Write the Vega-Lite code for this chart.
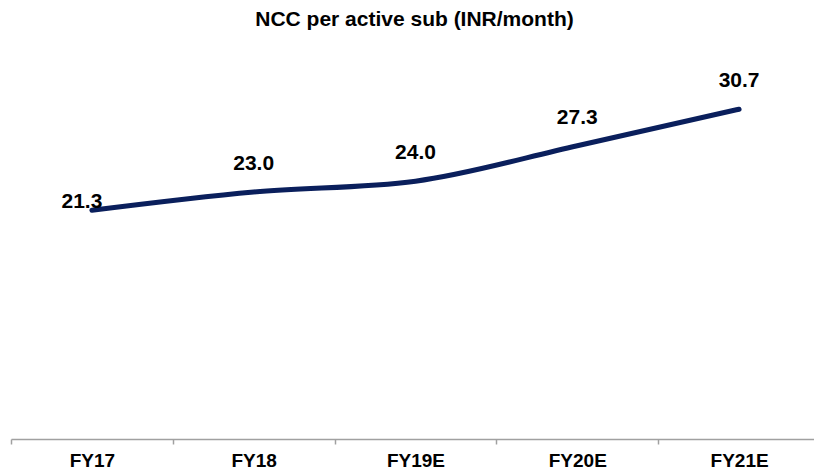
{
  "$schema": "https://vega.github.io/schema/vega-lite/v6.json",
  "autosize": {"type": "none"},
  "width": 803,
  "height": 376,
  "padding": {"left": 11, "top": 63, "right": 0, "bottom": 32},
  "background": "white",
  "title": {
    "text": "NCC per active sub (INR/month)",
    "font": "Liberation Sans",
    "fontSize": 21,
    "fontWeight": "bold",
    "color": "black",
    "anchor": "middle",
    "offset": 33,
    "dx": 2
  },
  "data": {
    "values": [
      {"year": "FY17", "value": 21.3},
      {"year": "FY18", "value": 23.0},
      {"year": "FY19E", "value": 24.0},
      {"year": "FY20E", "value": 27.3},
      {"year": "FY21E", "value": 30.7}
    ]
  },
  "encoding": {
    "x": {
      "field": "year",
      "type": "nominal",
      "sort": null,
      "scale": {"range": [0, 809], "paddingInner": 0, "paddingOuter": 0},
      "axis": {
        "title": null,
        "labelAngle": 0,
        "labelFont": "Liberation Sans",
        "labelFontSize": 19,
        "labelFontWeight": "bold",
        "labelColor": "black",
        "labelPadding": 7,
        "tickBand": "extent",
        "tickSize": 5,
        "tickColor": "#a0a0a0",
        "domainColor": "#a0a0a0",
        "domainWidth": 1.5,
        "tickWidth": 1.5,
        "grid": false
      }
    },
    "y": {
      "field": "value",
      "type": "quantitative",
      "scale": {"domain": [0, 35], "nice": false},
      "axis": null
    }
  },
  "layer": [
    {
      "mark": {"type": "line", "color": "#0a1f5c", "strokeWidth": 5, "interpolate": "monotone", "strokeCap": "round"}
    },
    {
      "transform": [{"filter": "datum.year !== 'FY17'"}],
      "mark": {"type": "text", "font": "Liberation Sans", "fontSize": 21, "fontWeight": "bold", "color": "black", "baseline": "middle", "dy": -28},
      "encoding": {"text": {"field": "value", "type": "quantitative", "format": ".1f"}}
    },
    {
      "transform": [{"filter": "datum.year === 'FY17'"}],
      "mark": {"type": "text", "font": "Liberation Sans", "fontSize": 21, "fontWeight": "bold", "color": "black", "baseline": "middle", "dy": -8, "dx": -10},
      "encoding": {"text": {"field": "value", "type": "quantitative", "format": ".1f"}}
    }
  ],
  "config": {"view": {"stroke": null}}
}
